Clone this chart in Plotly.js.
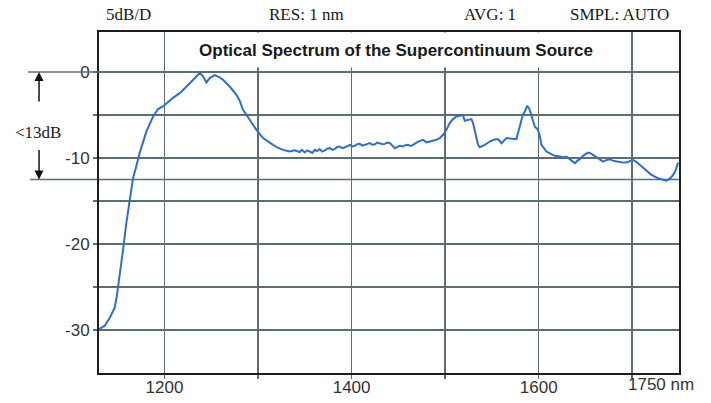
<!DOCTYPE html>
<html>
<head>
<meta charset="utf-8">
<script src="https://cdn.plot.ly/plotly-3.0.1.min.js"></script>
<style>html,body{margin:0;padding:0;background:#fff;}#chart{width:711px;height:403px;}</style>
</head>
<body>
<div id="chart"></div>
<script>
// Wavelength (nm)
const wavelength = [
1130.0,1136.1,1141.4,1146.8,1148.9,1152.1,1155.7,1159.3,1162.8,1166.3,1170.0,1173.5,1180.7,1187.7,1193.1,1198.4,
1209.1,1216.3,1223.4,1230.5,1237.7,1240.9,1244.8,1248.4,1253.7,1258.0,1262.6,1269.7,1276.9,1280.4,1283.9,1286.8,
1291.1,1298.3,1305.3,1310.4,1316.0,1321.0,1326.7,1333.9,1339.0,1344.6,1347.0,1349.9,1352.5,1355.3,1358.0,1360.6,
1363.0,1366.0,1368.5,1371.4,1374.0,1376.7,1379.5,1382.1,1384.8,1387.4,1390.0,1392.8,1395.5,1398.1,1400.8,1403.5,
1406.0,1408.8,1411.5,1414.2,1417.0,1419.5,1422.0,1424.9,1427.5,1430.2,1433.0,1435.6,1438.2,1441.0,1443.5,1446.3,
1449.0,1451.7,1455.0,1457.5,1460.0,1463.0,1465.7,1468.0,1470.7,1473.5,1476.4,1480.3,1483.5,1487.0,1490.7,1494.2,
1497.8,1501.4,1504.9,1508.5,1512.1,1515.6,1518.9,1521.0,1524.2,1528.1,1529.8,1531.7,1535.2,1537.0,1542.4,1547.7,
1552.0,1556.6,1560.2,1565.6,1570.2,1576.2,1579.8,1583.0,1585.2,1587.6,1590.0,1592.3,1595.8,1599.3,1601.2,1603.0,
1608.3,1612.9,1617.2,1621.5,1626.1,1630.0,1633.2,1636.5,1638.6,1641.2,1643.9,1648.2,1652.8,1655.7,1658.1,1663.2,
1668.8,1671.7,1676.0,1679.2,1683.2,1687.8,1693.8,1697.4,1700.9,1704.3,1708.0,1711.3,1715.2,1719.8,1724.1,1727.8,
1731.3,1733.7,1736.6,1739.1,1742.0,1744.4,1746.6,1749.0
];
// Power (dB, relative)
const power = [
-29.9,-29.5,-28.6,-27.4,-26.16,-23.8,-20.7,-17.5,-14.9,-12.4,-10.9,-9.4,-6.9,-5.2,-4.3,-4.0,
-3.0,-2.45,-1.7,-0.9,-0.1,-0.43,-1.2,-0.7,-0.35,-0.55,-0.9,-1.68,-2.64,-3.34,-4.39,-4.85,
-5.55,-6.72,-7.68,-8.1,-8.46,-8.8,-9.05,-9.24,-9.1,-9.3,-9.05,-9.35,-9.1,-9.24,-9.4,-9.05,
-9.2,-8.96,-9.25,-9.1,-8.9,-8.85,-9.05,-8.93,-8.7,-8.66,-8.85,-8.75,-8.55,-8.46,-8.65,-8.58,
-8.4,-8.35,-8.55,-8.46,-8.3,-8.27,-8.45,-8.4,-8.2,-8.27,-8.4,-8.35,-8.2,-8.27,-8.5,-8.85,
-8.7,-8.58,-8.66,-8.5,-8.46,-8.6,-8.46,-8.25,-8.11,-8.0,-7.88,-8.17,-8.08,-7.95,-7.88,-7.68,
-7.3,-6.72,-5.94,-5.47,-5.17,-5.09,-4.97,-5.67,-5.55,-5.47,-5.94,-6.72,-8.46,-8.73,-8.46,-8.08,
-7.88,-7.8,-8.27,-7.68,-7.76,-7.8,-6.33,-4.97,-4.59,-3.92,-4.27,-5.17,-6.33,-6.72,-7.42,-8.46,
-9.24,-9.51,-9.74,-9.8,-9.9,-9.86,-10.13,-10.38,-10.59,-10.33,-10.13,-9.69,-9.36,-9.45,-9.63,-10.03,
-10.41,-10.27,-10.13,-10.3,-10.41,-10.5,-10.52,-10.38,-10.21,-10.44,-10.79,-11.2,-11.57,-11.9,-12.15,-12.36,
-12.46,-12.57,-12.62,-12.48,-12.22,-11.84,-11.37,-10.52
];

const xGridVals = [1200, 1300, 1400, 1500, 1600, 1700];
const xTickText = ["1200", "", "1400", "", "1600", ""];
const yGridVals = [-30, -25, -20, -15, -10, -5, 0];
const yTickText = ["-30", "", "-20", "", "-10", "", "0"];
const headerTexts = ["5dB/D", "RES: 1 nm", "AVG: 1", "SMPL: AUTO"];
const chartTitle = "Optical Spectrum of the Supercontinuum Source";
const lastXLabel = "1750 nm";
const markerLabel = "<13dB";
const markerLevel = -12.5;

const gridColor = "#5d6d76";
const serif = "Liberation Serif, Times New Roman, serif";
const sans = "Liberation Sans, Arial, sans-serif";

const headerX = [0.05, 0.3586, 0.674, 0.8966];
const annotations = headerTexts.map((t, i) => ({
  text: t, xref: "paper", yref: "paper", x: headerX[i], y: 1.05,
  xanchor: "center", yanchor: "middle", showarrow: false,
  font: {family: serif, size: 17, color: "#1a1a1a"}
}));
annotations.push({
  text: "<b>" + chartTitle + "</b>", xref: "paper", yref: "paper",
  x: 0.512, y: 0.946, xanchor: "center", yanchor: "middle", showarrow: false,
  bgcolor: "#ffffff", width: 458, height: 34, borderpad: 0,
  font: {family: sans, size: 17, color: "#1a1a1a"}
});
annotations.push({
  text: lastXLabel, xref: "paper", yref: "paper", x: 0.969, y: -0.035,
  xanchor: "center", yanchor: "middle", showarrow: false,
  font: {family: sans, size: 17, color: "#333"}
});
annotations.push({
  text: markerLabel.replace("<", "&lt;"), xref: "paper", yref: "paper", x: -0.1055, y: 0.704,
  xanchor: "center", yanchor: "middle", showarrow: false,
  font: {family: serif, size: 17, color: "#1a1a1a"}
});
annotations.push({
  text: "", xref: "paper", yref: "y", x: -0.1034, y: 0,
  showarrow: true, ax: 0, ay: 31, arrowhead: 2, arrowsize: 1.2, arrowwidth: 1.5, arrowcolor: "#111"
});
annotations.push({
  text: "", xref: "paper", yref: "y", x: -0.1034, y: markerLevel,
  showarrow: true, ax: 0, ay: -31, arrowhead: 2, arrowsize: 1.2, arrowwidth: 1.5, arrowcolor: "#111"
});

const shapes = [
  {type: "line", xref: "paper", yref: "y", x0: -0.1224, x1: 0, y0: 0, y1: 0,
   line: {color: gridColor, width: 1.5}},
  {type: "line", xref: "paper", yref: "y", x0: -0.119, x1: 1, y0: markerLevel, y1: markerLevel,
   line: {color: gridColor, width: 1.5}, layer: "below"}
];

const trace = {
  x: wavelength, y: power, type: "scatter", mode: "lines",
  line: {color: "#2f6fc6", width: 2}, hoverinfo: "skip"
};

const layout = {
  width: 711, height: 403,
  margin: {l: 99, r: 32, t: 32, b: 30, pad: 0},
  paper_bgcolor: "#ffffff", plot_bgcolor: "#ffffff",
  showlegend: false,
  xaxis: {
    range: [1130, 1750], tickmode: "array", tickvals: xGridVals, ticktext: xTickText,
    showgrid: true, gridcolor: gridColor, gridwidth: 1.5, zeroline: false,
    showline: true, mirror: true, linecolor: "#1e1e1e", linewidth: 2,
    ticks: "outside", ticklen: 4, tickcolor: gridColor, tickwidth: 1.5,
    ticklabelstandoff: -6,
    tickfont: {family: sans, size: 17, color: "#333"}, fixedrange: true
  },
  yaxis: {
    range: [-35, 4.66], tickmode: "array", tickvals: yGridVals, ticktext: yTickText,
    showgrid: true, gridcolor: gridColor, gridwidth: 1.5, zeroline: false,
    showline: true, mirror: true, linecolor: "#1e1e1e", linewidth: 2,
    ticks: "outside", ticklen: 4, tickcolor: gridColor, tickwidth: 1.5,
    tickfont: {family: sans, size: 17, color: "#333"}, fixedrange: true
  },
  annotations: annotations,
  shapes: shapes
};

Plotly.newPlot("chart", [trace], layout, {staticPlot: true, displayModeBar: false});
</script>
</body>
</html>
